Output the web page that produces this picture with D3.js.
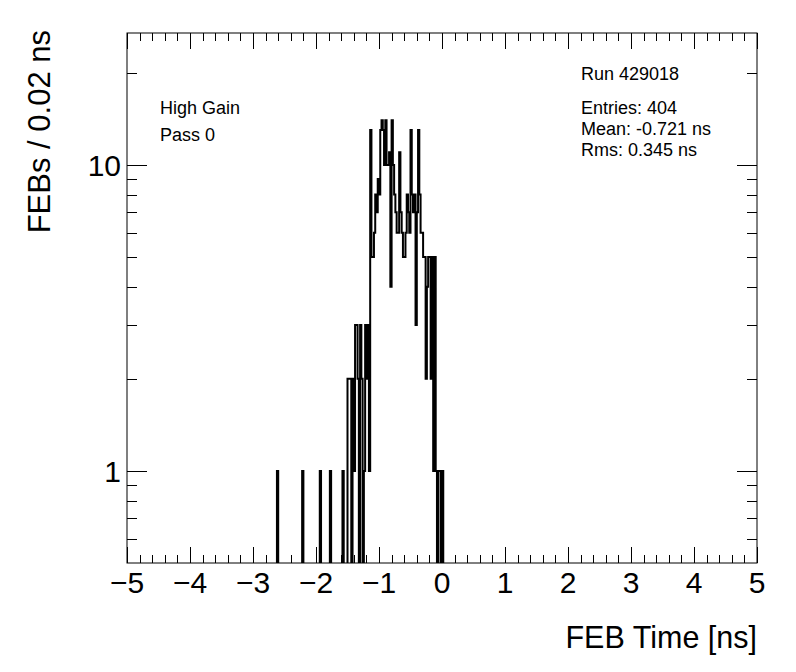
<!DOCTYPE html>
<html><head><meta charset="utf-8">
<script src="https://cdn.jsdelivr.net/npm/d3@7"></script>
<style>body{margin:0;background:#fff}svg{display:block}text{font-family:"Liberation Sans",Arial,Helvetica,sans-serif;fill:#000}</style>
</head><body><svg id="c" width="796" height="672"></svg>
<script>
// Histogram: bin width 0.02 ns, first bin low edge
const binWidth = 0.02;
const firstEdge = -2.64;
const counts = [
 0,1,0,0,0,0,0,0,0,0, 0,0,0,0,0,0,0,0,0,0,
 0,1,0,0,0,0,0,0,0,0, 0,0,0,0,0,1,0,0,0,0,
 0,0,0,1,0,0,0,0,0,0, 0,0,0,1,0,0,0,2,2,2,
 0,2,1,3,3,2,0,3,2,0, 1,3,2,3,1,13,5,5,6,8,
 7,9,8,13,14,13,10,14,10,10, 11,4,14,10,8,7,6,6,11,7,
 6,5,5,6,8,7,6,13,8,7, 8,3,7,13,8,6,6,5,5,2,
 4,5,5,2,5,1,5,1,0,1, 1,0,1,0
];
const xTickValues = [-5,-4,-3,-2,-1,0,1,2,3,4,5];
const yMajorTicks = [1,10];
const yMinorTicks = [0.6,0.7,0.8,0.9,2,3,4,5,6,7,8,9,20];
const statLines = ["Entries: 404","Mean: -0.721 ns","Rms: 0.345 ns"];
const runLabel = "Run 429018";
const infoLines = ["High Gain","Pass 0"];

const L=127,R=757,T=33,B=563;
const svg=d3.select("#c");
const x=d3.scaleLinear().domain([-5,5]).range([L,R]);
const y=d3.scaleLog().domain([0.5,27]).range([B,T]);

svg.append("defs").append("clipPath").attr("id","clip").append("rect")
  .attr("x",L).attr("y",T).attr("width",R-L).attr("height",B-T);

// histogram step path
const pts=[];
const yv=c=>c>0?y(c):B+3;
pts.push([x(firstEdge),B+3]);
counts.forEach((c,i)=>{
  const x0=x(firstEdge+i*binWidth), x1=x(firstEdge+(i+1)*binWidth);
  pts.push([x0,yv(c)]); pts.push([x1,yv(c)]);
});
pts.push([x(firstEdge+counts.length*binWidth),B+3]);
svg.append("path").attr("clip-path","url(#clip)")
  .attr("d",d3.line()(pts)).attr("fill","none").attr("stroke","#000").attr("stroke-width",2);

// frame
svg.append("rect").attr("x",L).attr("y",T).attr("width",R-L).attr("height",B-T)
  .attr("fill","none").attr("stroke","#000").attr("stroke-width",1);

const g=svg.append("g").attr("stroke","#000").attr("stroke-width",1);
// x ticks
const xMinor=d3.range(-50,51,2).map(v=>v/10);
xMinor.forEach(v=>{
  const major=Math.abs(v-Math.round(v))<1e-9;
  const len=major?16:8, px=Math.round(x(v))+0.5;
  g.append("line").attr("x1",px).attr("x2",px).attr("y1",B).attr("y2",B-len);
  g.append("line").attr("x1",px).attr("x2",px).attr("y1",T).attr("y2",T+len);
});
// y ticks
yMajorTicks.forEach(v=>{
  const py=Math.round(y(v))+0.5;
  g.append("line").attr("x1",L).attr("x2",L+20).attr("y1",py).attr("y2",py);
  g.append("line").attr("x1",R).attr("x2",R-20).attr("y1",py).attr("y2",py);
});
yMinorTicks.forEach(v=>{
  const py=Math.round(y(v))+0.5;
  g.append("line").attr("x1",L).attr("x2",L+10).attr("y1",py).attr("y2",py);
  g.append("line").attr("x1",R).attr("x2",R-10).attr("y1",py).attr("y2",py);
});

// tick labels
xTickValues.forEach(v=>{
  svg.append("text").attr("x",x(v)).attr("y",593).attr("text-anchor","middle")
    .attr("font-size",30).text(v<0?"\u2212"+Math.abs(v):String(v));
});
yMajorTicks.forEach(v=>{
  svg.append("text").attr("x",121).attr("y",y(v)+11).attr("text-anchor","end")
    .attr("font-size",30).text(String(v));
});

// axis titles
svg.append("text").attr("x",757).attr("y",648).attr("text-anchor","end")
  .attr("font-size",30.5).text("FEB Time [ns]");
svg.append("text").attr("transform","translate(50,30) rotate(-90)").attr("text-anchor","end")
  .attr("font-size",31).text("FEBs / 0.02 ns");

// annotations
infoLines.forEach((t,i)=>{
  svg.append("text").attr("x",160).attr("y",114+i*26.5).attr("font-size",18).text(t);
});
svg.append("text").attr("x",581).attr("y",80).attr("font-size",18).text(runLabel);
statLines.forEach((t,i)=>{
  svg.append("text").attr("x",581).attr("y",114+i*21).attr("font-size",18).text(t);
});
</script></body></html>
